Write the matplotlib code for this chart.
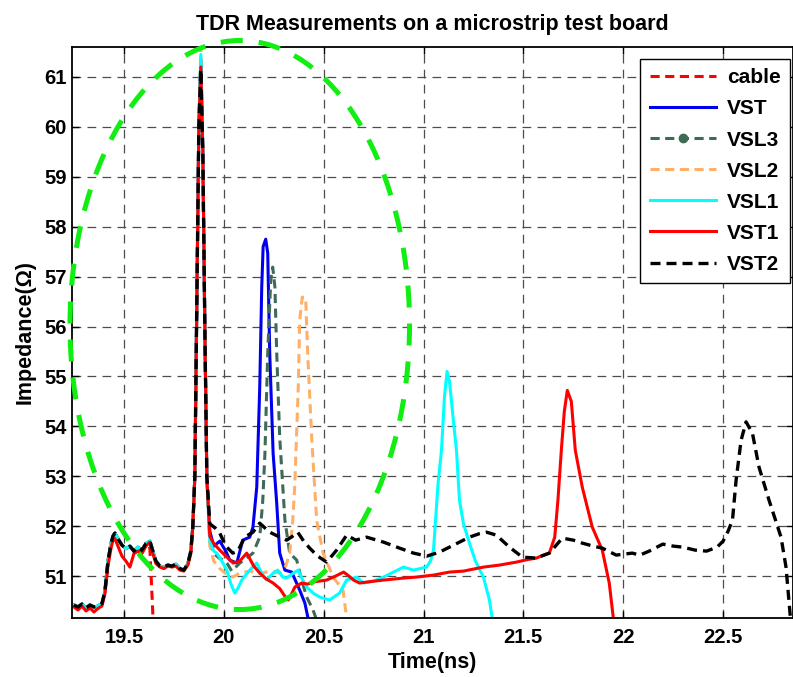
import matplotlib
matplotlib.use("Agg")
from matplotlib import pyplot as plt
from matplotlib.patches import Ellipse
from matplotlib.lines import Line2D

plt.rcParams['font.family'] = ['Liberation Sans', 'DejaVu Sans']
plt.rcParams['font.weight'] = 'bold'

# common launch region (all traces nearly identical)
base_t = [19.25, 19.27, 19.29, 19.31, 19.33, 19.35, 19.37, 19.39, 19.405, 19.42, 19.435, 19.445,
          19.455, 19.47, 19.49, 19.51, 19.53, 19.55, 19.57, 19.59, 19.61, 19.63, 19.645, 19.66,
          19.68, 19.70, 19.72, 19.74, 19.76, 19.78, 19.80, 19.82, 19.835, 19.845, 19.855]
base_z = [50.42, 50.38, 50.44, 50.36, 50.42, 50.38, 50.40, 50.45, 50.7, 51.3, 51.65, 51.8,
          51.86, 51.75, 51.62, 51.55, 51.6, 51.5, 51.58, 51.52, 51.65, 51.7, 51.5, 51.3,
          51.2, 51.18, 51.22, 51.2, 51.24, 51.15, 51.12, 51.25, 51.5, 52.0, 53.0]
vst1_base_z = [50.38, 50.32, 50.4, 50.3, 50.36, 50.28, 50.35, 50.4, 50.65, 51.2, 51.55, 51.72,
               51.75, 51.6, 51.4, 51.3, 51.18, 51.45, 51.5, 51.45, 51.6, 51.68, 51.45, 51.25,
               51.18, 51.15, 51.2, 51.18, 51.2, 51.12, 51.1, 51.22, 51.45, 52.0, 53.0]

cable_t = base_t[:21] + [19.62, 19.63, 19.636, 19.642, 19.648]
cable_z = base_z[:21] + [51.68, 51.55, 51.0, 50.5, 49.9]

vst_t = [19.865, 19.875, 19.885, 19.895, 19.905, 19.915, 19.93, 19.95, 19.98, 20.01, 20.03, 20.065,
         20.095, 20.13, 20.146, 20.165, 20.18, 20.19, 20.197, 20.21, 20.22, 20.23, 20.247, 20.265,
         20.28, 20.306, 20.34, 20.38, 20.406, 20.43]
vst_z = [56.5, 60.0, 61.35, 59.5, 56.0, 53.0, 51.9, 51.6, 51.7, 51.5, 51.32, 51.26,
         51.72, 51.78, 51.98, 52.78, 54.79, 56.79, 57.6, 57.75, 57.47, 55.47, 53.46, 52.46,
         51.46, 51.12, 51.08, 50.72, 50.46, 50.0]

vsl3_t = [19.865, 19.875, 19.885, 19.895, 19.905, 19.915, 19.93, 19.95, 19.98, 20.01, 20.04, 20.08,
          20.11, 20.146, 20.18, 20.195, 20.206, 20.22, 20.235, 20.245, 20.256, 20.265, 20.28, 20.306,
          20.33, 20.365, 20.39, 20.415, 20.447, 20.475]
vsl3_z = [56.5, 60.0, 61.3, 59.5, 56.0, 53.0, 51.7, 51.45, 51.35, 51.3, 51.1, 51.26,
          51.35, 51.46, 51.78, 52.5, 53.46, 55.47, 56.93, 57.19, 56.79, 55.47, 53.78, 52.12,
          51.46, 51.32, 50.92, 50.58, 50.32, 50.0]

vsl2_t = [19.865, 19.875, 19.885, 19.895, 19.905, 19.915, 19.93, 19.95, 19.98, 20.01, 20.045, 20.08,
          20.13, 20.18, 20.23, 20.28, 20.31, 20.33, 20.345, 20.355, 20.373, 20.38, 20.393, 20.41,
          20.42, 20.44, 20.465, 20.497, 20.547, 20.597, 20.62]
vsl2_z = [56.5, 60.0, 61.6, 59.5, 56.0, 53.0, 51.6, 51.3, 51.15, 51.05, 50.98, 51.06,
          51.1, 51.05, 51.1, 51.06, 51.2, 51.46, 52.1, 52.78, 54.79, 56.13, 56.59, 56.57,
          55.47, 53.78, 52.12, 51.46, 50.98, 50.72, 50.0]

vsl1_t = [19.865, 19.875, 19.885, 19.895, 19.905, 19.915, 19.93, 19.95, 19.965, 19.99, 20.015, 20.035,
          20.055, 20.07, 20.09, 20.13, 20.165, 20.19, 20.215, 20.245, 20.27, 20.295, 20.315, 20.345,
          20.373, 20.395, 20.415, 20.45, 20.48, 20.53, 20.58, 20.615, 20.665, 20.70, 20.75, 20.8,
          20.85, 20.9, 20.95, 21.015, 21.035, 21.05, 21.073, 21.09, 21.105, 21.118, 21.13, 21.15,
          21.165, 21.18, 21.2, 21.23, 21.26, 21.3, 21.33, 21.35]
vsl1_z = [56.5, 60.0, 61.45, 59.5, 56.0, 53.0, 51.7, 51.5, 51.46, 51.3, 51.12, 50.85,
          50.66, 50.75, 50.92, 51.12, 51.26, 51.05, 50.92, 51.05, 51.12, 50.98, 50.96, 51.05,
          51.12, 50.92, 50.78, 50.65, 50.58, 50.52, 50.66, 50.92, 50.98, 50.86, 50.9, 50.98,
          51.08, 51.18, 51.12, 51.18, 51.3, 51.52, 52.86, 53.52, 54.6, 55.1, 54.9, 54.1,
          53.52, 52.52, 52.05, 51.66, 51.3, 50.98, 50.52, 50.0]

vst1_t = [19.865, 19.875, 19.885, 19.895, 19.905, 19.915, 19.93, 19.95, 19.98, 20.01, 20.047, 20.08,
          20.115, 20.15, 20.18, 20.21, 20.247, 20.28, 20.305, 20.323, 20.34, 20.356, 20.39, 20.42,
          20.447, 20.48, 20.515, 20.56, 20.6, 20.62, 20.65, 20.68, 20.715, 20.8, 20.9, 20.965,
          21.05, 21.13, 21.2, 21.3, 21.38, 21.465, 21.52, 21.565, 21.6, 21.63, 21.657, 21.673,
          21.69, 21.705, 21.72, 21.74, 21.76, 21.795, 21.845, 21.895, 21.93, 21.955]
vst1_z = [56.5, 60.0, 61.2, 59.5, 56.0, 53.0, 51.8, 51.65, 51.52, 51.4, 51.26, 51.3,
          51.46, 51.2, 51.06, 50.95, 50.86, 50.75, 50.6, 50.52, 50.65, 50.78, 50.86, 50.84,
          50.88, 50.9, 50.92, 51.0, 51.08, 51.02, 50.92, 50.86, 50.88, 50.92, 50.96, 50.98,
          51.02, 51.08, 51.1, 51.18, 51.22, 51.28, 51.33, 51.36, 51.42, 51.46, 51.78, 52.52,
          53.52, 54.3, 54.72, 54.5, 53.52, 52.78, 51.98, 51.52, 50.86, 50.0]

vst2_t = [19.865, 19.875, 19.885, 19.895, 19.905, 19.915, 19.93, 19.96, 19.98, 20.01, 20.045, 20.07,
          20.105, 20.146, 20.18, 20.21, 20.23, 20.27, 20.315, 20.345, 20.37, 20.40, 20.43, 20.47,
          20.515, 20.54, 20.565, 20.615, 20.66, 20.715, 20.8, 20.88, 20.95, 21.017, 21.08, 21.13,
          21.18, 21.23, 21.28, 21.315, 21.365, 21.43, 21.495, 21.565, 21.63, 21.695, 21.75, 21.795,
          21.85, 21.895, 21.965, 22.045, 22.083, 22.13, 22.198, 22.25, 22.298, 22.36, 22.417, 22.47,
          22.5, 22.525, 22.547, 22.565, 22.59, 22.615, 22.647, 22.68, 22.73, 22.79, 22.815, 22.835,
          22.845]
vst2_z = [56.5, 60.0, 61.15, 59.5, 56.0, 53.0, 52.05, 51.95, 51.86, 51.6, 51.46, 51.5,
          51.78, 51.88, 52.06, 51.95, 51.88, 51.8, 51.72, 51.8, 51.88, 51.7, 51.56, 51.4,
          51.28, 51.4, 51.52, 51.82, 51.72, 51.78, 51.68, 51.56, 51.46, 51.4, 51.48, 51.58,
          51.68, 51.78, 51.85, 51.88, 51.82, 51.58, 51.38, 51.36, 51.46, 51.76, 51.72, 51.66,
          51.6, 51.56, 51.42, 51.46, 51.42, 51.5, 51.64, 51.6, 51.58, 51.52, 51.5, 51.58,
          51.7, 51.9, 52.12, 52.92, 53.72, 54.09, 53.86, 53.18, 52.52, 51.78, 51.18, 50.26,
          49.8]

xticks = [19.5, 20, 20.5, 21, 21.5, 22, 22.5]
xticklabels = ['19.5', '20', '20.5', '21', '21.5', '22', '22.5']
yticks = list(range(51, 62))

fig = plt.figure(figsize=(7.93, 6.77), dpi=100)
ax = fig.add_axes([72/793, 59/677, 721/793, 571/677])

dash = (0, (3, 1.8))
ax.plot(cable_t, cable_z, color='red', ls=dash, lw=2.2, label='cable')
ax.plot(base_t + vst_t, base_z + vst_z, color='#0000ee', lw=2.2, label='VST')
ax.plot(base_t + vsl3_t, base_z + vsl3_z, color='#3d6b55', ls=dash, lw=2.2, label='VSL3')
ax.plot(base_t + vsl2_t, base_z + vsl2_z, color='#ffb066', ls=dash, lw=2.2, label='VSL2')
ax.plot(base_t + vsl1_t, base_z + vsl1_z, color='cyan', lw=2.2, label='VSL1')
ax.plot(base_t + vst1_t, vst1_base_z + vst1_z, color='red', lw=2.2, label='VST1')
ax.plot(base_t + vst2_t, base_z + vst2_z, color='black', ls=dash, lw=2.4, label='VST2')

ell = Ellipse((20.08, 56.03), 1.70, 11.4, fill=False, edgecolor='#11ee11', lw=3.6,
              ls=(0, (4.4, 3.2)), clip_on=False, zorder=5)
ax.add_patch(ell)

ax.set_xlim(19.24, 22.85)
ax.set_ylim(50.16, 61.6)
ax.set_xticks(xticks)
ax.set_xticklabels(xticklabels)
ax.set_yticks(yticks)
ax.tick_params(direction='in', top=True, right=True, length=5, width=1, labelsize=14.5)
ax.tick_params(axis='x', pad=7)
ax.tick_params(axis='y', pad=4)
ax.grid(True, color='0.3', ls=(0, (7, 5)), lw=0.9)
for s in ax.spines.values():
    s.set_linewidth(1.3)

ax.set_title('TDR Measurements on a microstrip test board', fontsize=15.5, fontweight='bold', pad=12)
ax.set_xlabel('Time(ns)', fontsize=15.5, fontweight='bold', labelpad=4)
ax.set_ylabel('Impedance(Ω)', fontsize=15.5, fontweight='bold', labelpad=6)

handles, labels = ax.get_legend_handles_labels()
handles[2] = Line2D([], [], color='#3d6b55', ls=dash, lw=2.2, marker='o', markersize=6)
leg = ax.legend(handles, labels, loc='upper right', bbox_to_anchor=((790-72)/721, 1-12/571),
                borderaxespad=0, fancybox=False, framealpha=1, edgecolor='black',
                handlelength=3.2, handletextpad=0.5, borderpad=0.45, labelspacing=0.58,
                prop={'size': 15, 'weight': 'bold'})
leg.get_frame().set_linewidth(1.0)

plt.savefig('out.png', dpi=100)
